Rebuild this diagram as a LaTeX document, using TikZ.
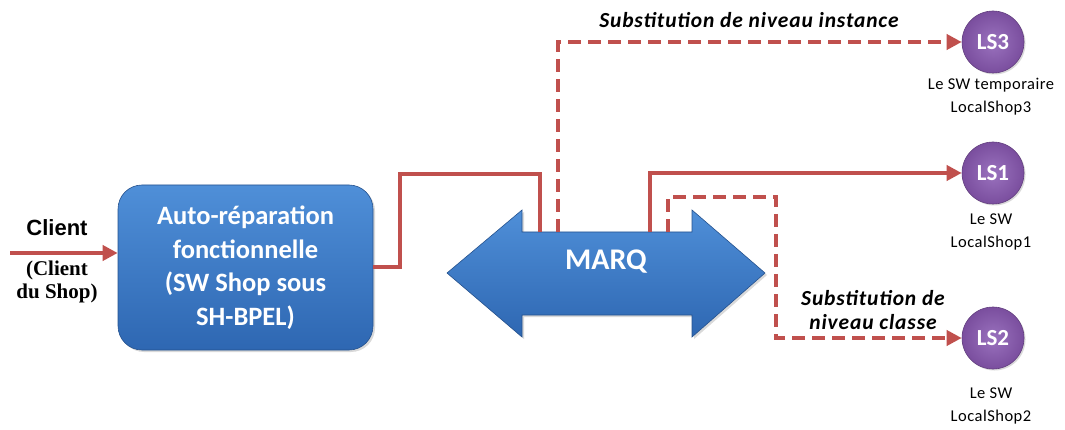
\documentclass[tikz,border=0pt]{standalone}
\usepackage{fontspec}
\setmainfont{Carlito}
\newfontfamily\arialf{Liberation Sans}
\newfontfamily\timesf{Liberation Serif}
\usetikzlibrary{arrows.meta,shadows}
\definecolor{lred}{HTML}{C0504D}
\definecolor{bluetop}{HTML}{4F8FD8}
\definecolor{bluebot}{HTML}{2E67B2}
\definecolor{purp}{HTML}{7A4E9E}
\definecolor{purpin}{HTML}{9A72BE}
\tikzset{
  conn/.style={draw=lred,line width=4.5pt},
  dconn/.style={conn,dash pattern=on 13pt off 7pt},
  tip/.style={-{Triangle[length=15pt,width=15pt]}},
  lsnode/.style={circle,minimum size=62pt,inner sep=0pt,draw=purp!80!black,line width=0.6pt,
    inner color=purpin,outer color=purp,text=white,font=\bfseries\fontsize{23}{25}\selectfont,
    drop shadow={shadow xshift=1.5pt,shadow yshift=-1.5pt,opacity=0.3}},
  small/.style={align=center,font=\fontsize{16.5}{23}\selectfont\addfontfeatures{LetterSpace=3}},
  sublab/.style={align=center,font=\bfseries\itshape\fontsize{21.5}{24}\selectfont\addfontfeatures{LetterSpace=4}}
}
\begin{document}
\begin{tikzpicture}[x=1pt,y=-1pt]
\useasboundingbox (0,0) rectangle (1065,430);
% main box
\node[draw=bluebot!80!black,line width=0.6pt,rounded corners=24pt,top color=bluetop,bottom color=bluebot,
  minimum width=255pt,minimum height=165pt,text=white,align=center,
  font=\bfseries\fontsize{26.5}{33.5}\selectfont,
  drop shadow={shadow xshift=2pt,shadow yshift=-2pt,opacity=0.3}]
  (box) at (245.5,267.5) {Auto-réparation\\fonctionnelle\\(SW Shop sous\\SH-BPEL)};
% double arrow
\path[draw=bluebot!80!black,line width=0.6pt,top color=bluetop,bottom color=bluebot,
  drop shadow={shadow xshift=2pt,shadow yshift=-2pt,opacity=0.3}]
  (447,273) -- (522,210) -- (522,232) -- (692,232) -- (692,210) -- (765,273)
  -- (692,337) -- (692,315) -- (522,315) -- (522,337) -- cycle;
\node[text=white,font=\bfseries\fontsize{30}{32}\selectfont] (marq) at (606,262) {MARQ};
\coordinate (m1) at (540,232);
\coordinate (m2) at (558,232);
\coordinate (m3) at (650,232);
\coordinate (m4) at (668,232);
% LS nodes
\node[lsnode] (ls3) at (993,42) {LS3};
\node[lsnode] (ls1) at (993,173) {LS1};
\node[lsnode] (ls2) at (993,338) {LS2};
\node[small] (t3) at (991,97) {Le SW temporaire\\LocalShop3};
\node[small] (t1) at (991,232) {Le SW\\LocalShop1};
\node[small] (t2) at (991,406) {Le SW\\LocalShop2};
% client
\coordinate (cstart) at (10,253);
\draw[conn,tip] (cstart) -- (box.west |- cstart);
\node[font=\arialf\bfseries\fontsize{22}{24}\selectfont] (client) at (57,228) {Client};
\node[font=\timesf\bfseries\fontsize{21}{23}\selectfont,align=center] (cdu) at (57,282) {(Client\\du Shop)};
% connectors
\draw[conn] (box.east |- 0,267) -- (400,267) -- (400,174) -- (540,174) -- (m1);
\draw[dconn,tip] (m2) -- (558,42) -- (ls3.west);
\draw[conn,tip] (m3) -- (650,173) -- (ls1.west);
\draw[dconn,tip] (m4) -- (668,197) -- (776,197) -- (776,338) -- (ls2.west);
% labels
\node[sublab] (s1) at (749,20) {Substitution de niveau instance};
\node[sublab] (s2) at (873,310) {Substitution de\\niveau classe};
\end{tikzpicture}
\end{document}
